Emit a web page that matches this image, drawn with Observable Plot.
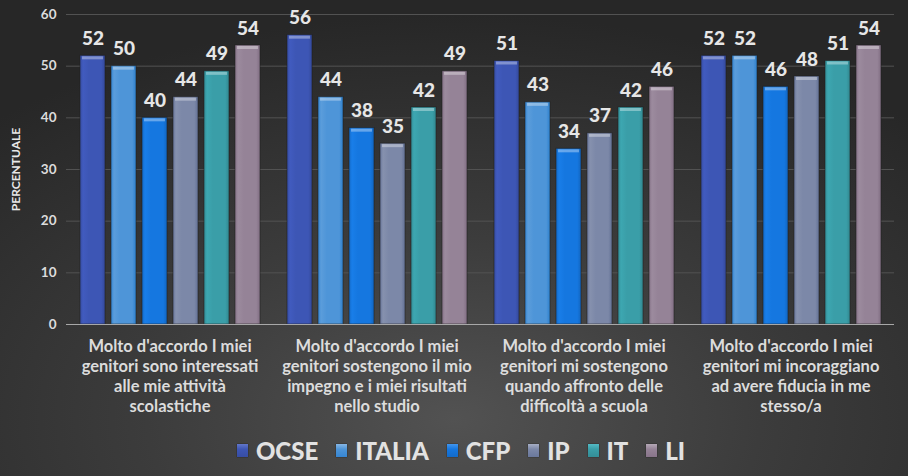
<!DOCTYPE html>
<html>
<head>
<meta charset="utf-8">
<script src="https://cdn.jsdelivr.net/npm/d3@7"></script>
<script src="https://cdn.jsdelivr.net/npm/@observablehq/plot@0.6"></script>
<style>
  html, body { margin: 0; padding: 0; background: #2a2a2a; }
  #chart {
    width: 908px; height: 476px; overflow: hidden; position: relative;
    background: radial-gradient(ellipse 75% 85% at 50% 88%, #525252 0%, #3c3c3c 45%, #272727 100%);
    font-family: Lato, "DejaVu Sans", sans-serif;
  }
  #chart svg { display: block; background: transparent; }
  #legend {
    display: flex; justify-content: center; align-items: center;
    height: 51px; margin-left: 14px;
  }
  .item { display: flex; align-items: center; margin: 0 9px; }
  .sw { width: 11px; height: 13px; margin-right: 8px; box-shadow: 0 0 1px #111; }
  .lab { font-weight: 900; font-size: 24px; color: #e2e2e2; letter-spacing: 0px; }
</style>
</head>
<body>
<div id="chart"></div>
<script>
const categories = [
  "Molto d'accordo I miei\ngenitori sono interessati\nalle mie attività\nscolastiche",
  "Molto d'accordo I miei\ngenitori sostengono il mio\nimpegno e i miei risultati\nnello studio",
  "Molto d'accordo I miei\ngenitori mi sostengono\nquando affronto delle\ndifficoltà a scuola",
  "Molto d'accordo I miei\ngenitori mi incoraggiano\nad avere fiducia in me\nstesso/a"
];
const series = ["OCSE", "ITALIA", "CFP", "IP", "IT", "LI"];
const colors = ["#3d56b5", "#4e95d8", "#1577e0", "#7c88a8", "#3a9ea8", "#958397"];
const OCSE   = [52, 56, 51, 52];
const ITALIA = [50, 44, 43, 52];
const CFP    = [40, 38, 34, 46];
const IP     = [44, 35, 37, 48];
const IT     = [49, 42, 42, 51];
const LI     = [54, 49, 46, 54];
const yTicks = [0, 10, 20, 30, 40, 50, 60];
const yLabel = "PERCENTUALE";

const valuesBySeries = [OCSE, ITALIA, CFP, IP, IT, LI];
const data = [];
categories.forEach((c, ci) => series.forEach((s, si) => data.push({category: c, series: s, value: valuesBySeries[si][ci]})));

const gradIds = series.map((s, i) => `grad${i}`);

const textColor = "#dcdcdc";
const plot = Plot.plot({
  width: 908,
  height: 425,
  marginLeft: 65,
  marginRight: 13,
  marginTop: 14,
  marginBottom: 101,
  style: {background: "transparent", fontFamily: "Lato, sans-serif"},
  fx: {domain: categories, padding: 0, label: null},
  x: {domain: series, axis: null, paddingInner: 0.2, paddingOuter: 0.42},
  y: {domain: [0, 60], ticks: yTicks, label: null},
  color: {domain: series, range: gradIds.map(id => `url(#${id})`)},
  marks: [
    Plot.gridY(yTicks, {stroke: "#525252", strokeOpacity: 1, strokeWidth: 1}),
    Plot.axisY(yTicks, {
      tickSize: 0, tickPadding: 10, fontSize: 13.5, fontWeight: "bold", fill: textColor,
      label: null
    }),
    Plot.text([yLabel], {
      frameAnchor: "left", textAnchor: "middle", dx: -50, rotate: -90, fontSize: 12, fontWeight: "bold",
      fill: "#e8e8e8", text: d => d, facet: "super"
    }),
    Plot.axisFx({
      anchor: "bottom",
      tickSize: 0, tickPadding: 13, fontSize: 16.5, fontWeight: "bold", fill: textColor,
      lineHeight: 1.22, label: null
    }),
    Plot.barY(data, {
      fx: "category", x: "series", y: "value", fill: "series",
      stroke: "#1e1e1e", strokeOpacity: 0.55, strokeWidth: 1
    }),
    Plot.tickY(data, {
      fx: "category", x: "series", y: "value",
      stroke: "#ffffff", strokeOpacity: 0.35, strokeWidth: 3, dy: 2, inset: 2
    }),
    Plot.text(data, {
      fx: "category", x: "series", y: "value", text: d => String(d.value),
      dy: -17, fontSize: 19, fontWeight: 900, fill: "#e6e6e6"
    }),
    Plot.ruleY([0], {stroke: "#a8a8a8", strokeWidth: 1.2})
  ]
});

// gradient defs for the cylinder-like bars
const svgNS = "http://www.w3.org/2000/svg";
const defs = document.createElementNS(svgNS, "defs");
function shade(c, k) { const h = d3.hsl(c); return (k > 0 ? h.brighter(k) : h.darker(-k)).formatHex(); }
colors.forEach((c, i) => {
  const g = document.createElementNS(svgNS, "linearGradient");
  g.setAttribute("id", gradIds[i]);
  g.setAttribute("x1", "0"); g.setAttribute("x2", "1"); g.setAttribute("y1", "0"); g.setAttribute("y2", "0");
  [[0, shade(c, -0.35)], [0.12, shade(c, 0.15)], [0.35, c], [0.85, c], [1, shade(c, -0.45)]].forEach(([o, col]) => {
    const s = document.createElementNS(svgNS, "stop");
    s.setAttribute("offset", o); s.setAttribute("stop-color", col);
    g.appendChild(s);
  });
  defs.appendChild(g);
});
plot.insertBefore(defs, plot.firstChild);

const chart = document.getElementById("chart");
chart.appendChild(plot);

const legend = document.createElement("div");
legend.id = "legend";
series.forEach((s, i) => {
  const item = document.createElement("div");
  item.className = "item";
  const sw = document.createElement("div");
  sw.className = "sw";
  const c = colors[i];
  sw.style.background = `linear-gradient(to bottom, ${shade(c, 0.6)} 0%, ${c} 40%, ${shade(c, -0.3)} 100%)`;
  const lab = document.createElement("span");
  lab.className = "lab";
  lab.textContent = s;
  item.appendChild(sw); item.appendChild(lab);
  legend.appendChild(item);
});
chart.appendChild(legend);
</script>
</body>
</html>
